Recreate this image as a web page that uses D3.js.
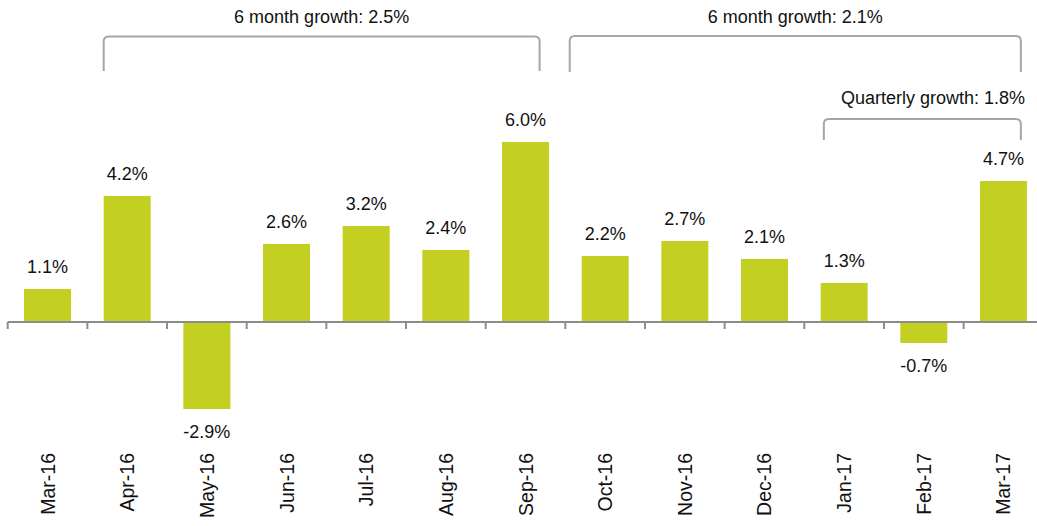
<!DOCTYPE html>
<html>
<head>
<meta charset="utf-8">
<script src="https://cdn.jsdelivr.net/npm/d3@7"></script>
<style>
  html, body { margin: 0; padding: 0; background: #fff; }
  svg { display: block; font-family: "Liberation Sans", Arial, sans-serif; }
</style>
</head>
<body>
<svg id="chart" width="1037" height="526"></svg>
<script>
const categories = ["Mar-16","Apr-16","May-16","Jun-16","Jul-16","Aug-16","Sep-16","Oct-16","Nov-16","Dec-16","Jan-17","Feb-17","Mar-17"];
const values = [1.1, 4.2, -2.9, 2.6, 3.2, 2.4, 6.0, 2.2, 2.7, 2.1, 1.3, -0.7, 4.7];
const bracketLabels = ["6 month growth: 2.5%", "6 month growth: 2.1%", "Quarterly growth: 1.8%"];
const bracketFrom = ["Apr-16", "Oct-16", "Jan-17"];
const bracketTo = ["Sep-16", "Mar-17", "Mar-17"];

const svg = d3.select("#chart");
const W = 1037;

const x = d3.scaleBand().domain(categories).range([7.7, 1043.3]).paddingInner(0.41).paddingOuter(0.205);
const y = d3.scaleLinear().domain([0, 6]).range([322, 142]);
const bw = x.bandwidth();
const step = x.step();
const color = "#c3cf21";

// bars
svg.append("g").selectAll("rect").data(values).join("rect")
  .attr("x", (d, i) => x(categories[i]))
  .attr("width", bw)
  .attr("y", d => y(Math.max(0, d)))
  .attr("height", d => Math.abs(y(d) - y(0)))
  .attr("fill", color);

// axis line + ticks at band boundaries
const axisY = y(0);
const boundaries = categories.map(c => x(c) - step * x.paddingOuter());
boundaries.push(boundaries[boundaries.length - 1] + step);
const ax = svg.append("g").attr("stroke", "#8c8c8c");
ax.append("line").attr("x1", boundaries[0]).attr("x2", W).attr("y1", axisY).attr("y2", axisY).attr("stroke-width", 2);
ax.selectAll("line.tick").data(boundaries).join("line").attr("class", "tick")
  .attr("x1", d => d).attr("x2", d => d).attr("y1", axisY).attr("y2", axisY + 7).attr("stroke-width", 2);

// value labels
svg.append("g").selectAll("text").data(values).join("text")
  .attr("x", (d, i) => x(categories[i]) + bw / 2)
  .attr("y", d => d >= 0 ? y(d) - 16 : y(d) + 29)
  .attr("text-anchor", "middle")
  .attr("font-size", 18)
  .attr("fill", "#111")
  .text(d => d.toFixed(1) + "%");

// category labels
svg.append("g").selectAll("text").data(categories).join("text")
  .attr("transform", d => `translate(${x(d) + bw / 2 + 7},453) rotate(-90)`)
  .attr("text-anchor", "end")
  .attr("font-size", 19.5)
  .attr("fill", "#111")
  .text(d => d);

// brackets
const bStart = [x(bracketFrom[0]), x(bracketFrom[1]) - 0.15 * step, x(bracketFrom[2]) + 0.04 * step];
const bEnd = [x(bracketTo[0]) + bw * 0.8, x(bracketTo[1]) + bw * 0.87, x(bracketTo[2]) + bw * 0.87];
const bTop = [36.5, 36, 119];
const bBottom = [71, 72, 140];
const tY = [23, 23, 104];
const tX = [null, null, 933];
const r = 5;
const bg = svg.append("g");
bracketLabels.forEach((lab, i) => {
  const l = bStart[i], rr = bEnd[i], t = bTop[i], b = bBottom[i];
  bg.append("path")
    .attr("d", `M${l},${b} L${l},${t + r} Q${l},${t} ${l + r},${t} L${rr - r},${t} Q${rr},${t} ${rr},${t + r} L${rr},${b}`)
    .attr("fill", "none").attr("stroke", "#a6a6a6").attr("stroke-width", 2);
  bg.append("text")
    .attr("x", tX[i] !== null ? tX[i] : (l + rr) / 2)
    .attr("y", tY[i])
    .attr("text-anchor", "middle")
    .attr("font-size", 18)
    .attr("fill", "#111")
    .text(lab);
});
</script>
</body>
</html>
